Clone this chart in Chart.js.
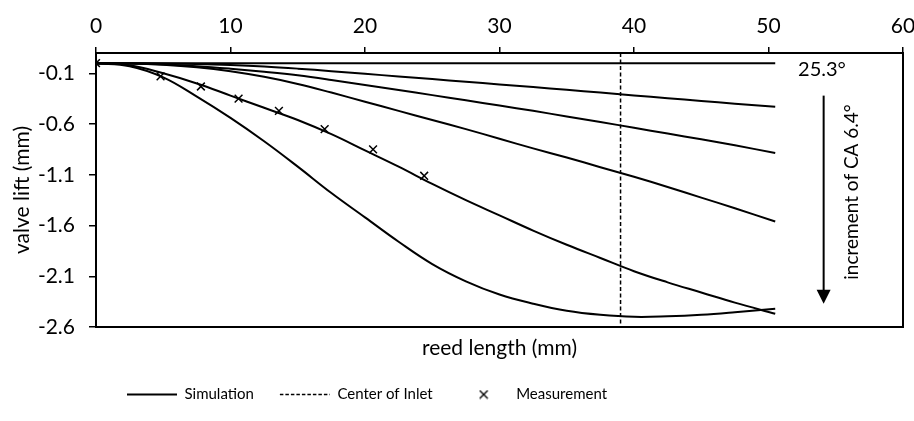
<!DOCTYPE html>
<html>
<head>
<meta charset="utf-8">
<script src="https://cdn.jsdelivr.net/npm/chart.js@4.4.1/dist/chart.umd.min.js"></script>
<style>
    html, body { margin: 0; padding: 0; background: #fff; }
    #wrap { width: 914px; height: 421px; }
</style>
</head>
<body>
<div id="wrap"><canvas id="myChart"></canvas></div>
<script>
// reed positions (mm) shared by all simulated curves
var reedX = [0, 2.5, 5, 7.5, 10, 12.5, 15, 17.5, 20, 22.5, 25, 27.5, 30, 32.5, 35, 37.5, 40, 42.5, 45, 47.5, 50.5];

// simulated valve lift, one curve per crank angle (25.3° and +6.4° steps)
var sim1 = [0, 0, 0, 0, 0, 0, 0, 0, 0, 0, 0, 0, 0, 0, 0, 0, 0, 0, 0, 0, 0];
var sim2 = [0, -0.001, -0.003, -0.008, -0.018, -0.033, -0.054, -0.079, -0.105, -0.131, -0.157, -0.183, -0.21, -0.236, -0.262, -0.29, -0.318, -0.345, -0.372, -0.399, -0.43];
var sim3 = [0, -0.003, -0.013, -0.03, -0.055, -0.085, -0.12, -0.165, -0.215, -0.265, -0.315, -0.366, -0.418, -0.47, -0.525, -0.58, -0.637, -0.694, -0.75, -0.81, -0.885];
var sim4 = [0, -0.003, -0.015, -0.04, -0.08, -0.135, -0.205, -0.29, -0.38, -0.47, -0.56, -0.65, -0.745, -0.84, -0.93, -1.025, -1.12, -1.22, -1.325, -1.43, -1.56];
var sim5 = [0, -0.02, -0.10, -0.20, -0.32, -0.44, -0.56, -0.70, -0.86, -1.02, -1.19, -1.35, -1.50, -1.65, -1.79, -1.92, -2.05, -2.16, -2.26, -2.36, -2.47];
var sim6 = [0, -0.03, -0.14, -0.33, -0.54, -0.77, -1.02, -1.28, -1.52, -1.76, -1.98, -2.15, -2.28, -2.37, -2.44, -2.48, -2.50, -2.495, -2.48, -2.455, -2.42];

// measured points
var measX = [0, 4.8, 7.8, 10.6, 13.6, 17.0, 20.6, 24.4];
var measY = [0, -0.13, -0.23, -0.35, -0.47, -0.65, -0.85, -1.11];

// center of inlet
var inletX = [39, 39];
var inletY = [0.1, -2.6];

// axes
var xTicks = [0, 10, 20, 30, 40, 50, 60];
var yTicks = [-2.6, -2.1, -1.6, -1.1, -0.6, -0.1];

var fontName = "Lato, 'Liberation Sans', sans-serif";
Chart.defaults.font.family = fontName;
Chart.defaults.font.size = 21;
Chart.defaults.color = '#000';

function pts(xv, yv) {
    return xv.map(function(x, i) { return { x: x, y: yv[i] }; });
}

// small x mark for the legend
var crossIcon = document.createElement('canvas');
crossIcon.width = 10;
crossIcon.height = 10;
(function() {
    var c = crossIcon.getContext('2d');
    c.strokeStyle = '#000';
    c.lineWidth = 1.4;
    c.beginPath();
    c.moveTo(1, 1); c.lineTo(9, 9);
    c.moveTo(9, 1); c.lineTo(1, 9);
    c.stroke();
})();

var simSets = [sim1, sim2, sim3, sim4, sim5, sim6].map(function(ys, i) {
    return {
        label: 'Simulation',
        data: pts(reedX, ys),
        borderColor: '#000',
        backgroundColor: '#000',
        borderWidth: 2,
        pointRadius: 0,
        pointStyle: 'line',
        tension: 0.4,
        inLegend: i === 0
    };
});

// arrow + labels on the right of the plot
var notes = {
    id: 'notes',
    afterDatasetsDraw: function(chart) {
        var ctx = chart.ctx;
        var sx = chart.scales.x, sy = chart.scales.y;
        ctx.save();
        ctx.fillStyle = '#000';
        ctx.strokeStyle = '#000';
        ctx.font = '20px ' + fontName;

        ctx.textAlign = 'left';
        ctx.textBaseline = 'middle';
        ctx.fillText('25.3°', sx.getPixelForValue(52.2), sy.getPixelForValue(-0.06));

        var ax = sx.getPixelForValue(54.1);
        var top = sy.getPixelForValue(-0.32);
        var tip = sy.getPixelForValue(-2.37);
        ctx.lineWidth = 2;
        ctx.beginPath();
        ctx.moveTo(ax, top);
        ctx.lineTo(ax, tip - 12);
        ctx.stroke();
        ctx.beginPath();
        ctx.moveTo(ax - 7, tip - 14);
        ctx.lineTo(ax + 7, tip - 14);
        ctx.lineTo(ax, tip);
        ctx.closePath();
        ctx.fill();

        ctx.font = '19px ' + fontName;
        ctx.translate(sx.getPixelForValue(56.2), sy.getPixelForValue(-1.27));
        ctx.rotate(-Math.PI / 2);
        ctx.textAlign = 'center';
        ctx.fillText('increment of CA 6.4°', 0, 0);
        ctx.restore();
    }
};

// move the legend row to where it sits in the figure
var legendShift = {
    id: 'legendShift',
    afterLayout: function(chart) {
        chart.legend.left += 101;
    }
};

var blackBorder = { display: true, color: '#000', width: 2 };

new Chart(document.getElementById('myChart'), {
    type: 'line',
    data: {
        datasets: simSets.concat([{
            label: 'Center of Inlet',
            data: pts(inletX, inletY),
            borderColor: '#000',
            backgroundColor: '#000',
            borderWidth: 1.5,
            borderDash: [4, 2.5],
            pointRadius: 0,
            pointStyle: 'line',
            inLegend: true
        }, {
            label: 'Measurement',
            data: pts(measX, measY),
            showLine: false,
            borderColor: '#000',
            backgroundColor: '#000',
            borderWidth: 1.5,
            pointStyle: 'crossRot',
            pointRadius: 5.5,
            legendIcon: crossIcon,
            inLegend: true
        }])
    },
    plugins: [notes, legendShift],
    options: {
        responsive: true,
        maintainAspectRatio: false,
        animation: false,
        devicePixelRatio: 1,
        layout: { padding: { left: 0, right: 0, top: 0, bottom: 9 } },
        plugins: {
            tooltip: { enabled: false },
            legend: {
                position: 'bottom',
                align: 'start',
                labels: {
                    usePointStyle: true,
                    pointStyleWidth: 50,
                    boxHeight: 8,
                    padding: 26,
                    color: '#000',
                    font: { size: 15 },
                    generateLabels: function(chart) {
                        var items = Chart.defaults.plugins.legend.labels.generateLabels(chart);
                        items.forEach(function(it) {
                            var ds = chart.data.datasets[it.datasetIndex];
                            if (ds.borderDash) it.lineDash = [3.5, 2];
                            if (ds.legendIcon) it.pointStyle = ds.legendIcon;
                        });
                        return items;
                    },
                    filter: function(item, data) {
                        return data.datasets[item.datasetIndex].inLegend;
                    }
                }
            }
        },
        scales: {
            x: {
                type: 'linear',
                position: 'top',
                min: 0,
                max: 60,
                afterBuildTicks: function(s) { s.ticks = xTicks.map(function(v) { return { value: v }; }); },
                afterFit: function(s) { s.height = 53; s.paddingLeft = 0; s.paddingRight = 0; },
                border: blackBorder,
                grid: { drawOnChartArea: false, drawTicks: true, tickLength: 6, color: '#000', lineWidth: 1.5 },
                ticks: { padding: 8, maxRotation: 0 }
            },
            x2: {
                type: 'linear',
                position: 'bottom',
                min: 0,
                max: 60,
                afterFit: function(s) { s.height = 34; s.paddingLeft = 0; s.paddingRight = 0; },
                border: blackBorder,
                grid: { display: false },
                ticks: { display: false },
                title: { display: true, text: 'reed length (mm)', padding: { top: 0, bottom: 0 } }
            },
            y: {
                type: 'linear',
                position: 'left',
                min: -2.6,
                max: 0.1,
                afterBuildTicks: function(s) { s.ticks = yTicks.map(function(v) { return { value: v }; }); },
                afterFit: function(s) { s.width = 96; s.paddingTop = 0; s.paddingBottom = 0; },
                border: blackBorder,
                grid: { drawOnChartArea: false, drawTicks: true, tickLength: 7, color: '#000', lineWidth: 1.5 },
                ticks: {
                    padding: 14,
                    callback: function(v) { return v.toFixed(1); }
                },
                title: { display: true, text: 'valve lift (mm)', padding: { top: 10, bottom: 0 } }
            },
            y2: {
                type: 'linear',
                position: 'right',
                min: -2.6,
                max: 0.1,
                afterFit: function(s) { s.width = 11; },
                border: blackBorder,
                grid: { display: false },
                ticks: { display: false }
            }
        }
    }
});
</script>
</body>
</html>
